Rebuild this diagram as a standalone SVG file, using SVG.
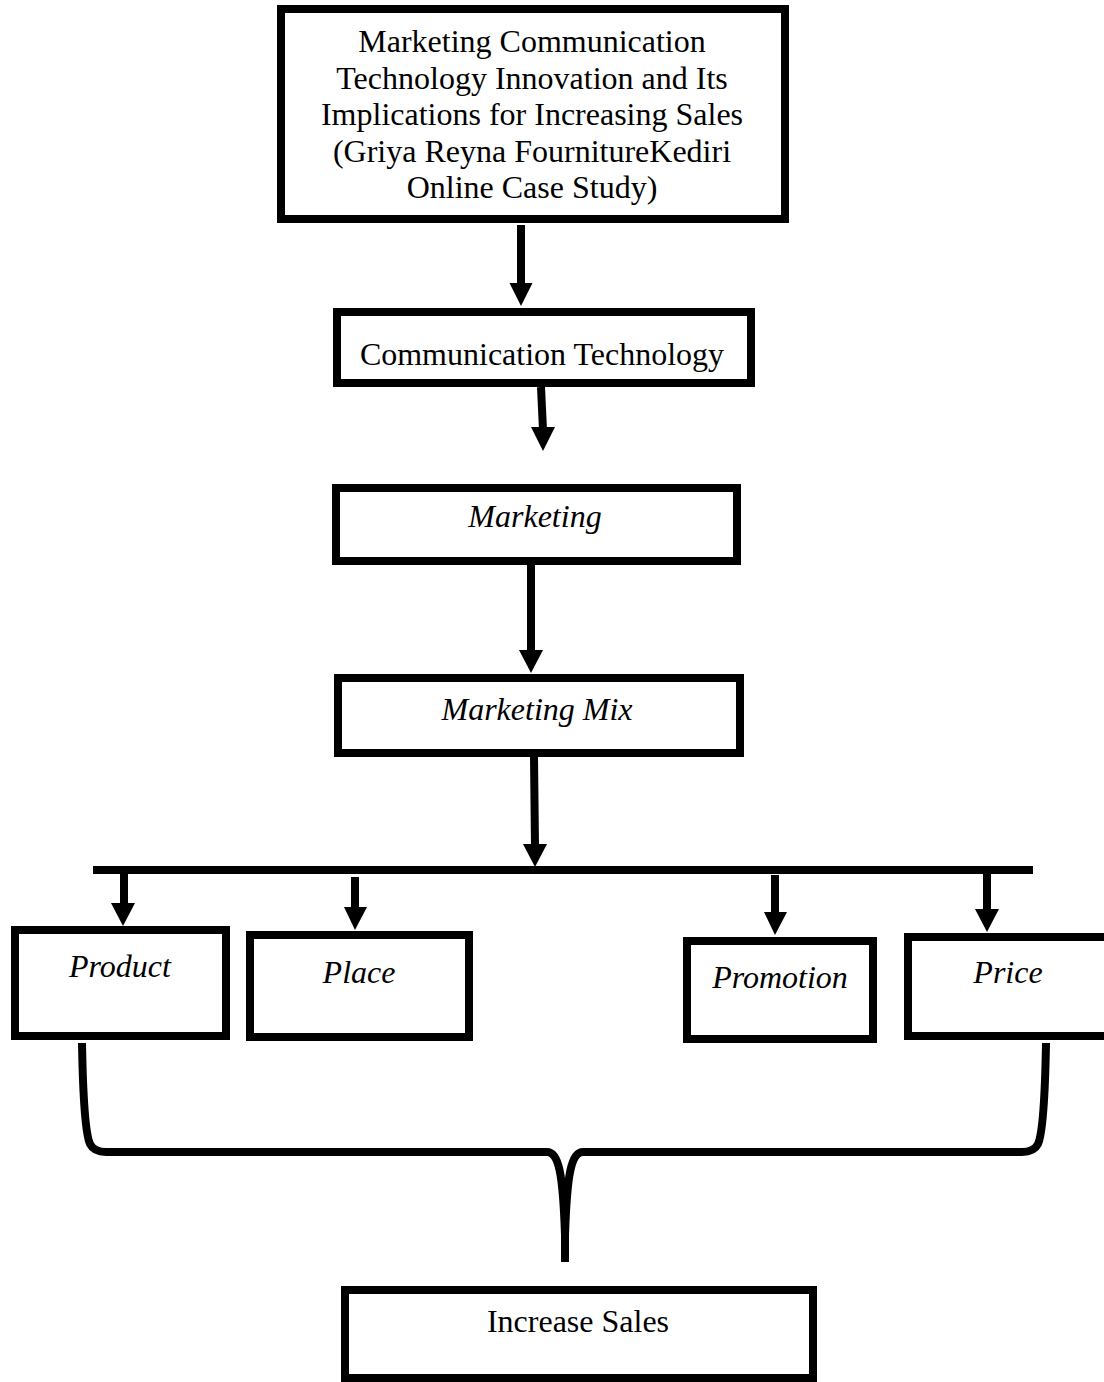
<svg xmlns="http://www.w3.org/2000/svg" width="1104" height="1382" viewBox="0 0 1104 1382">
<style>
.box{fill:#fff;stroke:#000;stroke-width:8}
.t{font-family:"Liberation Serif","Times New Roman",serif;font-size:32px;fill:#000;text-anchor:middle}
.i{font-style:italic}
.sh{stroke:#000;stroke-width:8;fill:none}
.hd{fill:#000;stroke:none}
.br{stroke:#000;stroke-width:8;fill:none;stroke-linejoin:round}
</style>
<rect width="1104" height="1382" fill="#fff"/>
<g id="connectors">
<line class="sh" x1="521" y1="225" x2="521" y2="286"/>
<polygon class="hd" points="509.5,283 532.5,283 521,306"/>
<line class="sh" x1="541" y1="387" x2="543" y2="430"/>
<polygon class="hd" points="531,427 555,427 543,451"/>
<line class="sh" x1="531" y1="565" x2="531" y2="652"/>
<polygon class="hd" points="519,650 543,650 531,673"/>
<line class="sh" x1="534" y1="757" x2="535" y2="846"/>
<polygon class="hd" points="523,844 547,844 535,867"/>
<line class="sh" x1="93" y1="870" x2="1033" y2="870"/>
<line class="sh" x1="124" y1="870" x2="124" y2="905"/>
<polygon class="hd" points="111,903 135,903 123,926"/>
<line class="sh" x1="355" y1="877" x2="355" y2="909"/>
<polygon class="hd" points="344,907 367,907 355,930"/>
<line class="sh" x1="775" y1="875" x2="775" y2="914"/>
<polygon class="hd" points="764,912 787,912 775,935"/>
<line class="sh" x1="987" y1="874" x2="987" y2="911"/>
<polygon class="hd" points="975,909 999,909 987,932"/>
<path class="br" d="M82,1043 C83,1100 86,1135 90,1144 Q94,1152 106,1152 L547,1152 C559,1152 563,1175 565,1235 L565,1262"/>
<path class="br" d="M1046,1043 C1045,1100 1042,1135 1038,1144 Q1034,1152 1022,1152 L583,1152 C571,1152 567,1175 565,1235"/>
</g>
<g id="node-title">
<rect class="box" x="281" y="9" width="504" height="210"/>
<text class="t" x="532" y="52">Marketing Communication</text>
<text class="t" x="532" y="89">Technology Innovation and Its</text>
<text class="t" x="532" y="125">Implications for Increasing Sales</text>
<text class="t" x="532" y="162">(Griya Reyna FournitureKediri</text>
<text class="t" x="532" y="198">Online Case Study)</text>
</g>
<g id="node-commtech">
<rect class="box" x="337" y="312" width="414" height="71"/>
<text class="t" x="542" y="365">Communication Technology</text>
</g>
<g id="node-marketing">
<rect class="box" x="336" y="488" width="401" height="73"/>
<text class="t i" x="535" y="527">Marketing</text>
</g>
<g id="node-mix">
<rect class="box" x="338" y="678" width="402" height="75"/>
<text class="t i" x="537" y="720">Marketing Mix</text>
</g>
<g id="node-product">
<rect class="box" x="15" y="930" width="211" height="106"/>
<text class="t i" x="120" y="977">Product</text>
</g>
<g id="node-place">
<rect class="box" x="250" y="935" width="219" height="102"/>
<text class="t i" x="359" y="983">Place</text>
</g>
<g id="node-promotion">
<rect class="box" x="687" y="941" width="186" height="98"/>
<text class="t i" x="780" y="988">Promotion</text>
</g>
<g id="node-price">
<rect class="box" x="908" y="937" width="204" height="99"/>
<text class="t i" x="1008" y="983">Price</text>
</g>
<g id="node-sales">
<rect class="box" x="345" y="1290" width="468" height="88"/>
<text class="t" x="578" y="1332">Increase Sales</text>
</g>
</svg>
